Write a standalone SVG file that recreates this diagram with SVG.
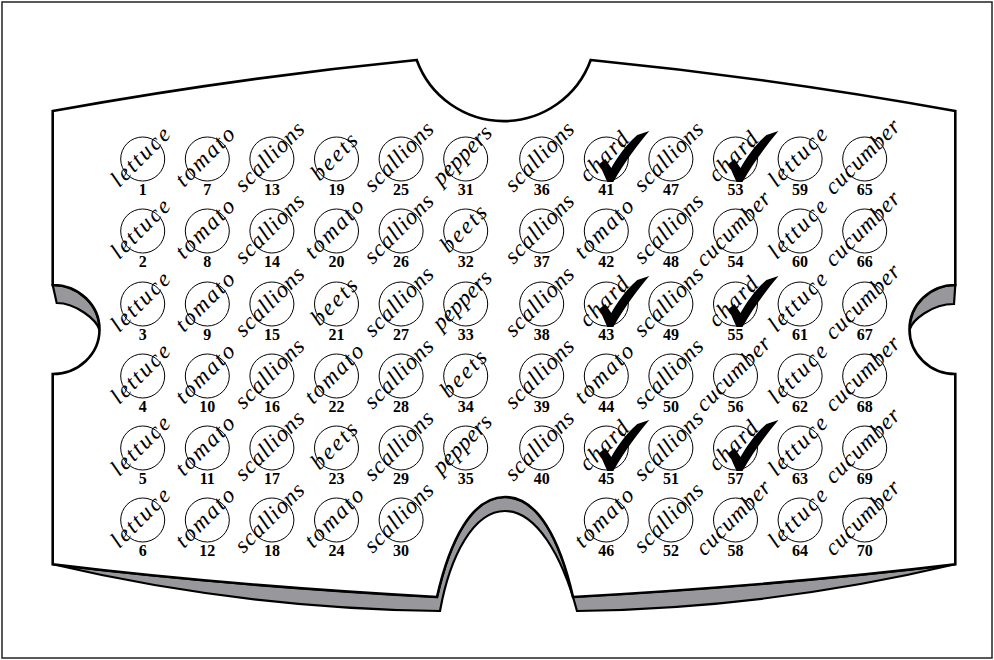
<svg xmlns="http://www.w3.org/2000/svg" xmlns:xlink="http://www.w3.org/1999/xlink" width="994" height="660" viewBox="0 0 994 660">
<style>
.c{fill:none;stroke:#000;stroke-width:1}
.w{font-family:"Liberation Serif","DejaVu Serif",serif;font-style:italic;font-size:23px;text-anchor:middle;fill:#000}
.n{font-family:"Liberation Serif","DejaVu Serif",serif;font-weight:bold;font-size:16px;text-anchor:middle;fill:#000}
.g{fill:#98989c;stroke:#000;stroke-width:2.2;stroke-linejoin:miter}
.card{fill:#fff;stroke:#000;stroke-width:2.6;stroke-linejoin:miter}
</style>
<defs>
<path id="chk" d="M -7,5 L -1,0 L 5,9 C 10,0 20,-15 31,-24 L 43,-28 C 32,-15 19,2 7,23 L 1,23 Z" fill="#000"/>
</defs>
<rect x="2" y="2" width="990" height="656" fill="#fff" stroke="#222" stroke-width="1.5"/>
<g id="card">
<path class="g" d="M 52.7,285 C 78.5,285 99.5,304.9 99.5,330 C 97,320 76,303 56.7,303 Z"/>
<path class="g" d="M 955.3,285 C 929.5,285 909.5,304.9 909.5,330 C 912,320 932,304 954,304 Z"/>
<path class="g" d="M 52.7,564.3 Q 225,585.4 437,597 C 450,540 472,497 505,497 C 538,497 560,540 573,597 Q 780,585.4 955.3,564.3 Q 770,608.4 577,611 C 562,555 536,511 505,511 C 474,511 450,555 440,611 Q 240,608.4 52.7,564.3 Z"/>
<path class="card" d="M 52.7,111 Q 235,78 416.7,60 A 92.5 92.5 0 0 0 590.7,60 Q 773,78 955.3,111 L 955.3,285 A 45.8 44.5 0 0 0 955.3,374 L 955.3,564.3 Q 780,585.4 573,597 C 560,540 538,497 505,497 C 472,497 450,540 437,597 Q 225,585.4 52.7,564.3 L 52.7,374 A 46.8 44.5 0 0 0 52.7,285 Z"/>
</g>
<g id="connectors"/>
<!-- column 1 -->
<g id="n1"><circle class="c" cx="142.7" cy="159" r="22"/><text class="w" transform="translate(142.7 159) rotate(-45)" y="4" textLength="74" lengthAdjust="spacing">lettuce</text><text class="n" x="142.7" y="195">1</text></g>
<g id="n2"><circle class="c" cx="142.7" cy="231" r="22"/><text class="w" transform="translate(142.7 231) rotate(-45)" y="4" textLength="74" lengthAdjust="spacing">lettuce</text><text class="n" x="142.7" y="267">2</text></g>
<g id="n3"><circle class="c" cx="142.7" cy="304" r="22"/><text class="w" transform="translate(142.7 304) rotate(-45)" y="4" textLength="74" lengthAdjust="spacing">lettuce</text><text class="n" x="142.7" y="340">3</text></g>
<g id="n4"><circle class="c" cx="142.7" cy="376" r="22"/><text class="w" transform="translate(142.7 376) rotate(-45)" y="4" textLength="74" lengthAdjust="spacing">lettuce</text><text class="n" x="142.7" y="412">4</text></g>
<g id="n5"><circle class="c" cx="142.7" cy="448" r="22"/><text class="w" transform="translate(142.7 448) rotate(-45)" y="4" textLength="74" lengthAdjust="spacing">lettuce</text><text class="n" x="142.7" y="484">5</text></g>
<g id="n6"><circle class="c" cx="142.7" cy="520" r="22"/><text class="w" transform="translate(142.7 520) rotate(-45)" y="4" textLength="74" lengthAdjust="spacing">lettuce</text><text class="n" x="142.7" y="556">6</text></g>
<!-- column 2 -->
<g id="n7"><circle class="c" cx="207.3" cy="159" r="22"/><text class="w" transform="translate(207.3 159) rotate(-45)" y="4" textLength="74" lengthAdjust="spacing">tomato</text><text class="n" x="207.3" y="195">7</text></g>
<g id="n8"><circle class="c" cx="207.3" cy="231" r="22"/><text class="w" transform="translate(207.3 231) rotate(-45)" y="4" textLength="74" lengthAdjust="spacing">tomato</text><text class="n" x="207.3" y="267">8</text></g>
<g id="n9"><circle class="c" cx="207.3" cy="304" r="22"/><text class="w" transform="translate(207.3 304) rotate(-45)" y="4" textLength="74" lengthAdjust="spacing">tomato</text><text class="n" x="207.3" y="340">9</text></g>
<g id="n10"><circle class="c" cx="207.3" cy="376" r="22"/><text class="w" transform="translate(207.3 376) rotate(-45)" y="4" textLength="74" lengthAdjust="spacing">tomato</text><text class="n" x="207.3" y="412">10</text></g>
<g id="n11"><circle class="c" cx="207.3" cy="448" r="22"/><text class="w" transform="translate(207.3 448) rotate(-45)" y="4" textLength="74" lengthAdjust="spacing">tomato</text><text class="n" x="207.3" y="484">11</text></g>
<g id="n12"><circle class="c" cx="207.3" cy="520" r="22"/><text class="w" transform="translate(207.3 520) rotate(-45)" y="4" textLength="74" lengthAdjust="spacing">tomato</text><text class="n" x="207.3" y="556">12</text></g>
<!-- column 3 -->
<g id="n13"><circle class="c" cx="271.9" cy="159" r="22"/><text class="w" transform="translate(271.9 159) rotate(-45)" y="4" textLength="88" lengthAdjust="spacing">scallions</text><text class="n" x="271.9" y="195">13</text></g>
<g id="n14"><circle class="c" cx="271.9" cy="231" r="22"/><text class="w" transform="translate(271.9 231) rotate(-45)" y="4" textLength="88" lengthAdjust="spacing">scallions</text><text class="n" x="271.9" y="267">14</text></g>
<g id="n15"><circle class="c" cx="271.9" cy="304" r="22"/><text class="w" transform="translate(271.9 304) rotate(-45)" y="4" textLength="88" lengthAdjust="spacing">scallions</text><text class="n" x="271.9" y="340">15</text></g>
<g id="n16"><circle class="c" cx="271.9" cy="376" r="22"/><text class="w" transform="translate(271.9 376) rotate(-45)" y="4" textLength="88" lengthAdjust="spacing">scallions</text><text class="n" x="271.9" y="412">16</text></g>
<g id="n17"><circle class="c" cx="271.9" cy="448" r="22"/><text class="w" transform="translate(271.9 448) rotate(-45)" y="4" textLength="88" lengthAdjust="spacing">scallions</text><text class="n" x="271.9" y="484">17</text></g>
<g id="n18"><circle class="c" cx="271.9" cy="520" r="22"/><text class="w" transform="translate(271.9 520) rotate(-45)" y="4" textLength="88" lengthAdjust="spacing">scallions</text><text class="n" x="271.9" y="556">18</text></g>
<!-- column 4 -->
<g id="n19"><circle class="c" cx="336.5" cy="159" r="22"/><text class="w" transform="translate(336.5 159) rotate(-45)" y="4" textLength="56" lengthAdjust="spacing">beets</text><text class="n" x="336.5" y="195">19</text></g>
<g id="n20"><circle class="c" cx="336.5" cy="231" r="22"/><text class="w" transform="translate(336.5 231) rotate(-45)" y="4" textLength="74" lengthAdjust="spacing">tomato</text><text class="n" x="336.5" y="267">20</text></g>
<g id="n21"><circle class="c" cx="336.5" cy="304" r="22"/><text class="w" transform="translate(336.5 304) rotate(-45)" y="4" textLength="56" lengthAdjust="spacing">beets</text><text class="n" x="336.5" y="340">21</text></g>
<g id="n22"><circle class="c" cx="336.5" cy="376" r="22"/><text class="w" transform="translate(336.5 376) rotate(-45)" y="4" textLength="74" lengthAdjust="spacing">tomato</text><text class="n" x="336.5" y="412">22</text></g>
<g id="n23"><circle class="c" cx="336.5" cy="448" r="22"/><text class="w" transform="translate(336.5 448) rotate(-45)" y="4" textLength="56" lengthAdjust="spacing">beets</text><text class="n" x="336.5" y="484">23</text></g>
<g id="n24"><circle class="c" cx="336.5" cy="520" r="22"/><text class="w" transform="translate(336.5 520) rotate(-45)" y="4" textLength="74" lengthAdjust="spacing">tomato</text><text class="n" x="336.5" y="556">24</text></g>
<!-- column 5 -->
<g id="n25"><circle class="c" cx="401.1" cy="159" r="22"/><text class="w" transform="translate(401.1 159) rotate(-45)" y="4" textLength="88" lengthAdjust="spacing">scallions</text><text class="n" x="401.1" y="195">25</text></g>
<g id="n26"><circle class="c" cx="401.1" cy="231" r="22"/><text class="w" transform="translate(401.1 231) rotate(-45)" y="4" textLength="88" lengthAdjust="spacing">scallions</text><text class="n" x="401.1" y="267">26</text></g>
<g id="n27"><circle class="c" cx="401.1" cy="304" r="22"/><text class="w" transform="translate(401.1 304) rotate(-45)" y="4" textLength="88" lengthAdjust="spacing">scallions</text><text class="n" x="401.1" y="340">27</text></g>
<g id="n28"><circle class="c" cx="401.1" cy="376" r="22"/><text class="w" transform="translate(401.1 376) rotate(-45)" y="4" textLength="88" lengthAdjust="spacing">scallions</text><text class="n" x="401.1" y="412">28</text></g>
<g id="n29"><circle class="c" cx="401.1" cy="448" r="22"/><text class="w" transform="translate(401.1 448) rotate(-45)" y="4" textLength="88" lengthAdjust="spacing">scallions</text><text class="n" x="401.1" y="484">29</text></g>
<g id="n30"><circle class="c" cx="401.1" cy="520" r="22"/><text class="w" transform="translate(401.1 520) rotate(-45)" y="4" textLength="88" lengthAdjust="spacing">scallions</text><text class="n" x="401.1" y="556">30</text></g>
<!-- column 6 -->
<g id="n31"><circle class="c" cx="465.7" cy="159" r="22"/><text class="w" transform="translate(465.7 159) rotate(-45)" y="2" textLength="74" lengthAdjust="spacing">peppers</text><text class="n" x="465.7" y="195">31</text></g>
<g id="n32"><circle class="c" cx="465.7" cy="231" r="22"/><text class="w" transform="translate(465.7 231) rotate(-45)" y="4" textLength="56" lengthAdjust="spacing">beets</text><text class="n" x="465.7" y="267">32</text></g>
<g id="n33"><circle class="c" cx="465.7" cy="304" r="22"/><text class="w" transform="translate(465.7 304) rotate(-45)" y="2" textLength="74" lengthAdjust="spacing">peppers</text><text class="n" x="465.7" y="340">33</text></g>
<g id="n34"><circle class="c" cx="465.7" cy="376" r="22"/><text class="w" transform="translate(465.7 376) rotate(-45)" y="4" textLength="56" lengthAdjust="spacing">beets</text><text class="n" x="465.7" y="412">34</text></g>
<g id="n35"><circle class="c" cx="465.7" cy="448" r="22"/><text class="w" transform="translate(465.7 448) rotate(-45)" y="2" textLength="74" lengthAdjust="spacing">peppers</text><text class="n" x="465.7" y="484">35</text></g>
<!-- column 7 -->
<g id="n36"><circle class="c" cx="541.7" cy="159" r="22"/><text class="w" transform="translate(541.7 159) rotate(-45)" y="4" textLength="88" lengthAdjust="spacing">scallions</text><text class="n" x="541.7" y="195">36</text></g>
<g id="n37"><circle class="c" cx="541.7" cy="231" r="22"/><text class="w" transform="translate(541.7 231) rotate(-45)" y="4" textLength="88" lengthAdjust="spacing">scallions</text><text class="n" x="541.7" y="267">37</text></g>
<g id="n38"><circle class="c" cx="541.7" cy="304" r="22"/><text class="w" transform="translate(541.7 304) rotate(-45)" y="4" textLength="88" lengthAdjust="spacing">scallions</text><text class="n" x="541.7" y="340">38</text></g>
<g id="n39"><circle class="c" cx="541.7" cy="376" r="22"/><text class="w" transform="translate(541.7 376) rotate(-45)" y="4" textLength="88" lengthAdjust="spacing">scallions</text><text class="n" x="541.7" y="412">39</text></g>
<g id="n40"><circle class="c" cx="541.7" cy="448" r="22"/><text class="w" transform="translate(541.7 448) rotate(-45)" y="4" textLength="88" lengthAdjust="spacing">scallions</text><text class="n" x="541.7" y="484">40</text></g>
<!-- column 8 -->
<g id="n41"><circle class="c" cx="606.3" cy="159" r="22"/><text class="w" transform="translate(606.3 159) rotate(-45)" y="4" textLength="60" lengthAdjust="spacing">chard</text><use xlink:href="#chk" x="606.3" y="159"/><text class="n" x="606.3" y="195">41</text></g>
<g id="n42"><circle class="c" cx="606.3" cy="231" r="22"/><text class="w" transform="translate(606.3 231) rotate(-45)" y="4" textLength="74" lengthAdjust="spacing">tomato</text><text class="n" x="606.3" y="267">42</text></g>
<g id="n43"><circle class="c" cx="606.3" cy="304" r="22"/><text class="w" transform="translate(606.3 304) rotate(-45)" y="4" textLength="60" lengthAdjust="spacing">chard</text><use xlink:href="#chk" x="606.3" y="304"/><text class="n" x="606.3" y="340">43</text></g>
<g id="n44"><circle class="c" cx="606.3" cy="376" r="22"/><text class="w" transform="translate(606.3 376) rotate(-45)" y="4" textLength="74" lengthAdjust="spacing">tomato</text><text class="n" x="606.3" y="412">44</text></g>
<g id="n45"><circle class="c" cx="606.3" cy="448" r="22"/><text class="w" transform="translate(606.3 448) rotate(-45)" y="4" textLength="60" lengthAdjust="spacing">chard</text><use xlink:href="#chk" x="606.3" y="448"/><text class="n" x="606.3" y="484">45</text></g>
<g id="n46"><circle class="c" cx="606.3" cy="520" r="22"/><text class="w" transform="translate(606.3 520) rotate(-45)" y="4" textLength="74" lengthAdjust="spacing">tomato</text><text class="n" x="606.3" y="556">46</text></g>
<!-- column 9 -->
<g id="n47"><circle class="c" cx="670.9" cy="159" r="22"/><text class="w" transform="translate(670.9 159) rotate(-45)" y="4" textLength="88" lengthAdjust="spacing">scallions</text><text class="n" x="670.9" y="195">47</text></g>
<g id="n48"><circle class="c" cx="670.9" cy="231" r="22"/><text class="w" transform="translate(670.9 231) rotate(-45)" y="4" textLength="88" lengthAdjust="spacing">scallions</text><text class="n" x="670.9" y="267">48</text></g>
<g id="n49"><circle class="c" cx="670.9" cy="304" r="22"/><text class="w" transform="translate(670.9 304) rotate(-45)" y="4" textLength="88" lengthAdjust="spacing">scallions</text><text class="n" x="670.9" y="340">49</text></g>
<g id="n50"><circle class="c" cx="670.9" cy="376" r="22"/><text class="w" transform="translate(670.9 376) rotate(-45)" y="4" textLength="88" lengthAdjust="spacing">scallions</text><text class="n" x="670.9" y="412">50</text></g>
<g id="n51"><circle class="c" cx="670.9" cy="448" r="22"/><text class="w" transform="translate(670.9 448) rotate(-45)" y="4" textLength="88" lengthAdjust="spacing">scallions</text><text class="n" x="670.9" y="484">51</text></g>
<g id="n52"><circle class="c" cx="670.9" cy="520" r="22"/><text class="w" transform="translate(670.9 520) rotate(-45)" y="4" textLength="88" lengthAdjust="spacing">scallions</text><text class="n" x="670.9" y="556">52</text></g>
<!-- column 10 -->
<g id="n53"><circle class="c" cx="735.5" cy="159" r="22"/><text class="w" transform="translate(735.5 159) rotate(-45)" y="4" textLength="60" lengthAdjust="spacing">chard</text><use xlink:href="#chk" x="735.5" y="159"/><text class="n" x="735.5" y="195">53</text></g>
<g id="n54"><circle class="c" cx="735.5" cy="231" r="22"/><text class="w" transform="translate(735.5 231) rotate(-45)" y="4" textLength="96" lengthAdjust="spacing">cucumber</text><text class="n" x="735.5" y="267">54</text></g>
<g id="n55"><circle class="c" cx="735.5" cy="304" r="22"/><text class="w" transform="translate(735.5 304) rotate(-45)" y="4" textLength="60" lengthAdjust="spacing">chard</text><use xlink:href="#chk" x="735.5" y="304"/><text class="n" x="735.5" y="340">55</text></g>
<g id="n56"><circle class="c" cx="735.5" cy="376" r="22"/><text class="w" transform="translate(735.5 376) rotate(-45)" y="4" textLength="96" lengthAdjust="spacing">cucumber</text><text class="n" x="735.5" y="412">56</text></g>
<g id="n57"><circle class="c" cx="735.5" cy="448" r="22"/><text class="w" transform="translate(735.5 448) rotate(-45)" y="4" textLength="60" lengthAdjust="spacing">chard</text><use xlink:href="#chk" x="735.5" y="448"/><text class="n" x="735.5" y="484">57</text></g>
<g id="n58"><circle class="c" cx="735.5" cy="520" r="22"/><text class="w" transform="translate(735.5 520) rotate(-45)" y="4" textLength="96" lengthAdjust="spacing">cucumber</text><text class="n" x="735.5" y="556">58</text></g>
<!-- column 11 -->
<g id="n59"><circle class="c" cx="800.1" cy="159" r="22"/><text class="w" transform="translate(800.1 159) rotate(-45)" y="4" textLength="74" lengthAdjust="spacing">lettuce</text><text class="n" x="800.1" y="195">59</text></g>
<g id="n60"><circle class="c" cx="800.1" cy="231" r="22"/><text class="w" transform="translate(800.1 231) rotate(-45)" y="4" textLength="74" lengthAdjust="spacing">lettuce</text><text class="n" x="800.1" y="267">60</text></g>
<g id="n61"><circle class="c" cx="800.1" cy="304" r="22"/><text class="w" transform="translate(800.1 304) rotate(-45)" y="4" textLength="74" lengthAdjust="spacing">lettuce</text><text class="n" x="800.1" y="340">61</text></g>
<g id="n62"><circle class="c" cx="800.1" cy="376" r="22"/><text class="w" transform="translate(800.1 376) rotate(-45)" y="4" textLength="74" lengthAdjust="spacing">lettuce</text><text class="n" x="800.1" y="412">62</text></g>
<g id="n63"><circle class="c" cx="800.1" cy="448" r="22"/><text class="w" transform="translate(800.1 448) rotate(-45)" y="4" textLength="74" lengthAdjust="spacing">lettuce</text><text class="n" x="800.1" y="484">63</text></g>
<g id="n64"><circle class="c" cx="800.1" cy="520" r="22"/><text class="w" transform="translate(800.1 520) rotate(-45)" y="4" textLength="74" lengthAdjust="spacing">lettuce</text><text class="n" x="800.1" y="556">64</text></g>
<!-- column 12 -->
<g id="n65"><circle class="c" cx="864.7" cy="159" r="22"/><text class="w" transform="translate(864.7 159) rotate(-45)" y="4" textLength="96" lengthAdjust="spacing">cucumber</text><text class="n" x="864.7" y="195">65</text></g>
<g id="n66"><circle class="c" cx="864.7" cy="231" r="22"/><text class="w" transform="translate(864.7 231) rotate(-45)" y="4" textLength="96" lengthAdjust="spacing">cucumber</text><text class="n" x="864.7" y="267">66</text></g>
<g id="n67"><circle class="c" cx="864.7" cy="304" r="22"/><text class="w" transform="translate(864.7 304) rotate(-45)" y="4" textLength="96" lengthAdjust="spacing">cucumber</text><text class="n" x="864.7" y="340">67</text></g>
<g id="n68"><circle class="c" cx="864.7" cy="376" r="22"/><text class="w" transform="translate(864.7 376) rotate(-45)" y="4" textLength="96" lengthAdjust="spacing">cucumber</text><text class="n" x="864.7" y="412">68</text></g>
<g id="n69"><circle class="c" cx="864.7" cy="448" r="22"/><text class="w" transform="translate(864.7 448) rotate(-45)" y="4" textLength="96" lengthAdjust="spacing">cucumber</text><text class="n" x="864.7" y="484">69</text></g>
<g id="n70"><circle class="c" cx="864.7" cy="520" r="22"/><text class="w" transform="translate(864.7 520) rotate(-45)" y="4" textLength="96" lengthAdjust="spacing">cucumber</text><text class="n" x="864.7" y="556">70</text></g>
</svg>
